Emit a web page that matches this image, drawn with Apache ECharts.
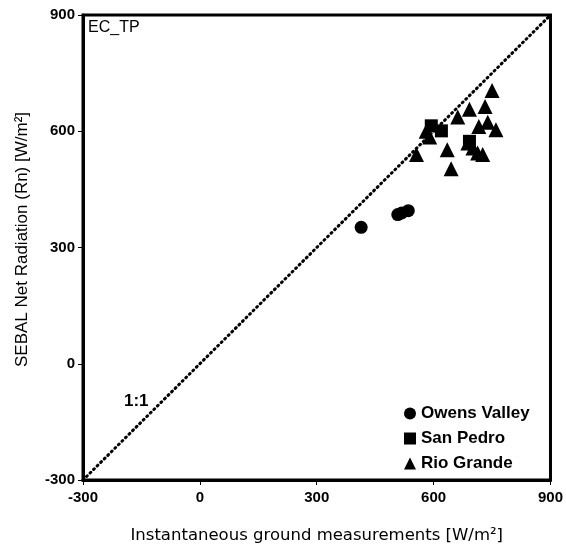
<!DOCTYPE html>
<html><head><meta charset="utf-8">
<script src="https://cdn.jsdelivr.net/npm/echarts@6/dist/echarts.min.js"></script>
<style>html,body{margin:0;padding:0;background:#fff}#c{width:566px;height:549px}</style>
</head><body><div id="c"></div>
<script>
const axisTicks = [-300, 0, 300, 600, 900];
const owensValley = [[414, 352], [508, 385], [518, 389], [535, 395]];
const sanPedro = [[594, 614], [620, 601], [692, 574]];
const rioGrande = [[750, 705], [732, 664], [692, 657], [662, 637], [716, 612], [739, 623], [760, 604],
  [581, 600], [590, 585], [556, 540], [635, 552], [645, 503], [688, 570], [701, 557], [713, 544], [726, 540]];
const oneToOne = [[-300, -300], [900, 900]];

const font = 'Liberation Sans, Arial, sans-serif';
const chart = echarts.init(document.getElementById('c'));
chart.setOption({
  animation: false,
  grid: { left: 83, right: 13, top: 15, bottom: 68, show: true, borderColor: '#000', borderWidth: 3 },
  xAxis: {
    type: 'value', min: axisTicks[0], max: axisTicks[axisTicks.length - 1], interval: 300,
    name: 'Instantaneous ground measurements [W/m²]', nameLocation: 'middle', nameGap: 47,
    nameTextStyle: { fontFamily: 'DejaVu Sans, Verdana, sans-serif', fontSize: 16.5, color: '#000' },
    axisLine: { onZero: false, lineStyle: { color: '#000', width: 3 } },
    axisTick: { show: true, length: 5, lineStyle: { color: '#000', width: 1 } },
    axisLabel: { fontFamily: font, fontSize: 15, fontWeight: 'bold', color: '#000', margin: 10 },
    splitLine: { show: false }
  },
  yAxis: {
    type: 'value', min: axisTicks[0], max: axisTicks[axisTicks.length - 1], interval: 300,
    name: 'SEBAL Net Radiation (Rn) [W/m²]', nameLocation: 'middle', nameGap: 52,
    nameTextStyle: { fontFamily: font, fontSize: 17, color: '#000', padding: [0, 0, 0, 16] },
    axisLine: { onZero: false, lineStyle: { color: '#000', width: 3 } },
    axisTick: { show: true, length: 5, lineStyle: { color: '#000', width: 1 } },
    axisLabel: { fontFamily: font, fontSize: 15, fontWeight: 'bold', color: '#000', margin: 8 },
    splitLine: { show: false }
  },
  legend: {
    orient: 'vertical', left: 399, top: 400, itemGap: 8, itemWidth: 12, itemHeight: 12,
    textStyle: { fontFamily: font, fontSize: 17, fontWeight: 'bold', color: '#000' },
    data: [
      { name: 'Owens Valley', icon: 'circle' },
      { name: 'San Pedro', icon: 'rect' },
      { name: 'Rio Grande', icon: 'triangle' }
    ]
  },
  graphic: [
    { type: 'text', left: 88, top: 20, style: { text: 'EC_TP', font: '16px ' + font, fill: '#000' } },
    { type: 'text', left: 124, top: 393, style: { text: '1:1', font: 'bold 17px ' + font, fill: '#000' } }
  ],
  series: [
    { name: '1:1', type: 'line', data: oneToOne, symbol: 'none', silent: true,
      lineStyle: { color: '#000', width: 3, type: [1, 4], cap: 'round' }, z: 1 },
    { name: 'Owens Valley', type: 'scatter', data: owensValley, symbol: 'circle', symbolSize: 13,
      itemStyle: { color: '#000', opacity: 1 } },
    { name: 'San Pedro', type: 'scatter', data: sanPedro, symbol: 'rect', symbolSize: 13,
      itemStyle: { color: '#000', opacity: 1 } },
    { name: 'Rio Grande', type: 'scatter', data: rioGrande, symbol: 'triangle', symbolSize: 15,
      itemStyle: { color: '#000', opacity: 1 } }
  ]
});
</script></body></html>
